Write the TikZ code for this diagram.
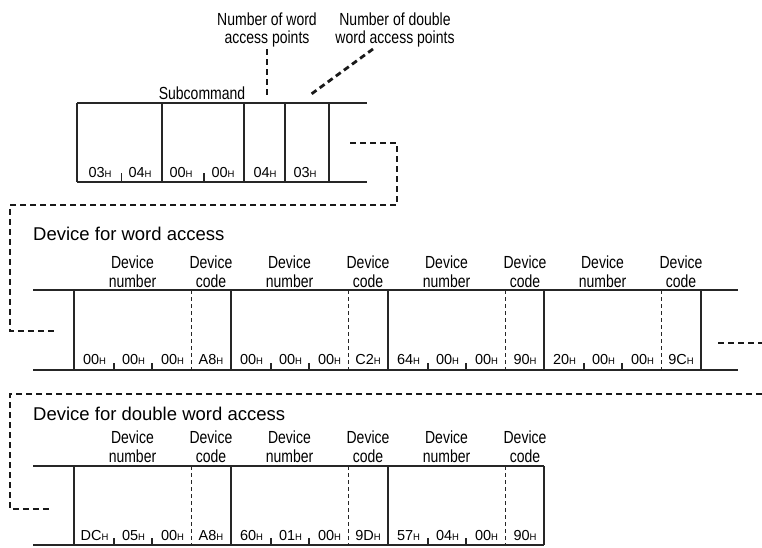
\documentclass[tikz,border=0pt]{standalone}
\usepackage{fontspec}
\setmainfont{Liberation Sans}
\newfontfamily\narrowsans[FakeStretch=0.8]{Liberation Sans}
\usetikzlibrary{positioning,calc}
\newcommand{\hexv}[1]{#1{\fontsize{9.5}{9.5}\selectfont H}}

\begin{document}
\begin{tikzpicture}[x=1pt,y=-1pt]
    \tikzset{
      frame/.style={line width=1.4pt,draw=black!85},
      divider/.style={line width=0.9pt,draw=black!85,dash pattern=on 4pt off 3pt},
      leader/.style={line width=2.8pt,draw=black!90,dash pattern=on 6pt off 4pt},
      heading/.style={font=\fontsize{18.5}{22}\selectfont,anchor=base west,inner sep=0pt},
      fieldlabel/.style={font=\narrowsans\fontsize{17.5}{19}\selectfont,anchor=base,inner sep=0pt},
      value/.style={font=\fontsize{14.5}{14.5}\selectfont,anchor=base,inner sep=0pt}
    }
    \useasboundingbox (0,0) rectangle (762,547);
    % header fields
    \node[fieldlabel] (wordcnt1) at (267,25) {Number of word};
    \node[fieldlabel] (wordcnt2) at (267,43) {access points};
    \node[fieldlabel] (dwordcnt1) at (395,25) {Number of double};
    \node[fieldlabel] (dwordcnt2) at (395,43) {word access points};
    \node[fieldlabel] (subcmd) at (202,99) {Subcommand};
    \draw[leader] (267,49) -- (267,95);
    \draw[leader] (373,49) -- (310,95);
    \draw[frame] (77,103) -- (367,103) (77,182) -- (367,182);
    \foreach \x in {77,162,244,285,329}
      \draw[frame] (\x,103) -- (\x,182);
    \foreach \x in {121.7,204}
      \draw[frame] (\x,182) -- (\x,172.5);
    \node[value] (v03a) at (100,177) {\hexv{03}};
    \node[value] (v04a) at (140,177) {\hexv{04}};
    \node[value] (v00a) at (181,177) {\hexv{00}};
    \node[value] (v00b) at (223,177) {\hexv{00}};
    \node[value] (v04b) at (265,177) {\hexv{04}};
    \node[value] (v03b) at (305,177) {\hexv{03}};
    \coordinate (hdrout) at (350,143);
    \coordinate (wordin) at (57,331);
    \draw[leader] (hdrout) -- (397,143) -- (397,205) -- (10,205) |- (wordin);
    % word access devices
    \node[heading] (wordhead) at (33,240) {Device for word access};
    \draw[frame] (33,290) -- (738,290) (33,370) -- (738,370);
    \foreach \x/\num/\code [count=\i] in {74/{00,00,00}/A8, 231/{00,00,00}/C2, 388/{64,00,00}/90, 544/{20,00,00}/9C}{
      \draw[frame] (\x,290) -- (\x,370);
      \draw[divider] (\x+117,290) -- (\x+117,370);
      \draw[frame] (\x+40,370) -- (\x+40,363) (\x+78,370) -- (\x+78,363);
      \node[fieldlabel] (wnum\i) at (\x+58.5,268) {Device};
      \node[fieldlabel] at (\x+58.5,287) {number};
      \node[fieldlabel] (wcode\i) at (\x+137,268) {Device};
      \node[fieldlabel] at (\x+137,287) {code};
      \foreach \b [count=\j] in \num
        \node[value] at (\x+1+39*\j-19.5,364) {\hexv{\b}};
      \node[value] at (\x+137,364) {\hexv{\code}};
    }
    \draw[frame] (701,290) -- (701,370);
    \coordinate (wordout) at (718,343);
    \coordinate (edgeout) at (762,343);
    \draw[leader] (wordout) -- (edgeout);
    \coordinate (edgein) at (762,394);
    \coordinate (dwordin) at (50,509);
    \draw[leader] (edgein) -- (10,394) |- (dwordin);
    % double word access devices
    \node[heading] (dwordhead) at (33,420) {Device for double word access};
    \draw[frame] (33,466) -- (544,466) (33,545) -- (544,545);
    \foreach \x/\num/\code [count=\i] in {74/{DC,05,00}/A8, 231/{60,01,00}/9D, 388/{57,04,00}/90}{
      \draw[frame] (\x,466) -- (\x,545);
      \draw[divider] (\x+117,466) -- (\x+117,545);
      \draw[frame] (\x+40,545) -- (\x+40,538) (\x+78,545) -- (\x+78,538);
      \node[fieldlabel] (dnum\i) at (\x+58.5,443) {Device};
      \node[fieldlabel] at (\x+58.5,462) {number};
      \node[fieldlabel] (dcode\i) at (\x+137,443) {Device};
      \node[fieldlabel] at (\x+137,462) {code};
      \foreach \b [count=\j] in \num
        \node[value] at (\x+1+39*\j-19.5,540) {\hexv{\b}};
      \node[value] at (\x+137,540) {\hexv{\code}};
    }
    \draw[frame] (544,466) -- (544,545);
\end{tikzpicture}
\end{document}
